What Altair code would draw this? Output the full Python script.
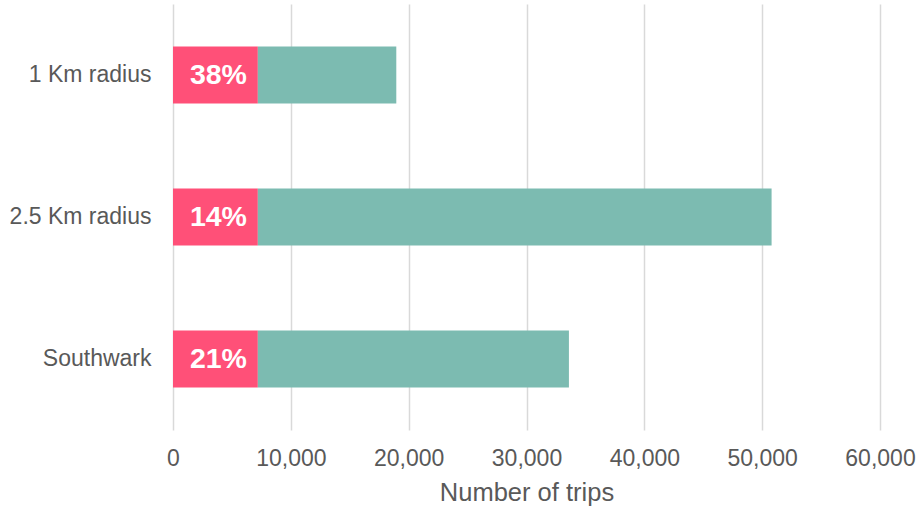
import altair as alt
import pandas as pd

categories = ["1 Km radius", "2.5 Km radius", "Southwark"]
pink_values = [7200, 7200, 7200]
total_values = [18950, 50800, 33600]
pct_labels = ["38%", "14%", "21%"]
x_ticks = [0, 10000, 20000, 30000, 40000, 50000, 60000]

rows = []
for c, p, t, lab in zip(categories, pink_values, total_values, pct_labels):
    rows.append({"cat": c, "seg": "share", "start": 0, "end": p, "mid": p / 2, "label": lab})
    rows.append({"cat": c, "seg": "rest", "start": p, "end": t, "mid": None, "label": ""})
df = pd.DataFrame(rows)

FONT = "Liberation Sans"

y_enc = alt.Y(
    "cat:N",
    sort=categories,
    title=None,
    scale=alt.Scale(paddingInner=0.6, paddingOuter=0.3),
    axis=alt.Axis(
        domain=False, ticks=False, grid=False,
        labelFont=FONT, labelFontSize=23, labelColor="#595959",
        labelPadding=22,
    ),
)

bars = alt.Chart(df).mark_bar(cornerRadius=0).encode(
    y=y_enc,
    x=alt.X(
        "start:Q",
        scale=alt.Scale(domain=[0, 60000], nice=False),
        title="Number of trips",
        axis=alt.Axis(
            values=x_ticks,
            format=",.0f",
            domain=False, ticks=False,
            grid=True, gridColor="#D9D9D9", gridWidth=1.5,
            labelFont=FONT, labelFontSize=23, labelColor="#595959",
            labelPadding=17, labelFlush=False, labelOverlap=False,
            titleFont=FONT, titleFontSize=25.5, titleColor="#595959",
            titleFontWeight="normal", titlePadding=10,
        ),
    ),
    x2="end:Q",
    color=alt.Color(
        "seg:N",
        scale=alt.Scale(domain=["share", "rest"], range=["#FF5078", "#7CBBB1"]),
        legend=None,
    ),
)

text = alt.Chart(df[df["seg"] == "share"]).mark_text(
    font=FONT, fontSize=28.5, fontWeight="bold", color="white",
    align="center", baseline="middle", dx=3,
).encode(
    y=alt.Y("cat:N", sort=categories),
    x=alt.X("mid:Q"),
    text="label:N",
)

chart = (bars + text).properties(
    width=707, height=426,
    autosize=alt.AutoSizeParams(type="none"),
    padding={"left": 173, "top": 4, "right": 37, "bottom": 79},
).configure_view(stroke=None)

chart.save("out.html", embed_options={"renderer": "svg", "actions": False})
